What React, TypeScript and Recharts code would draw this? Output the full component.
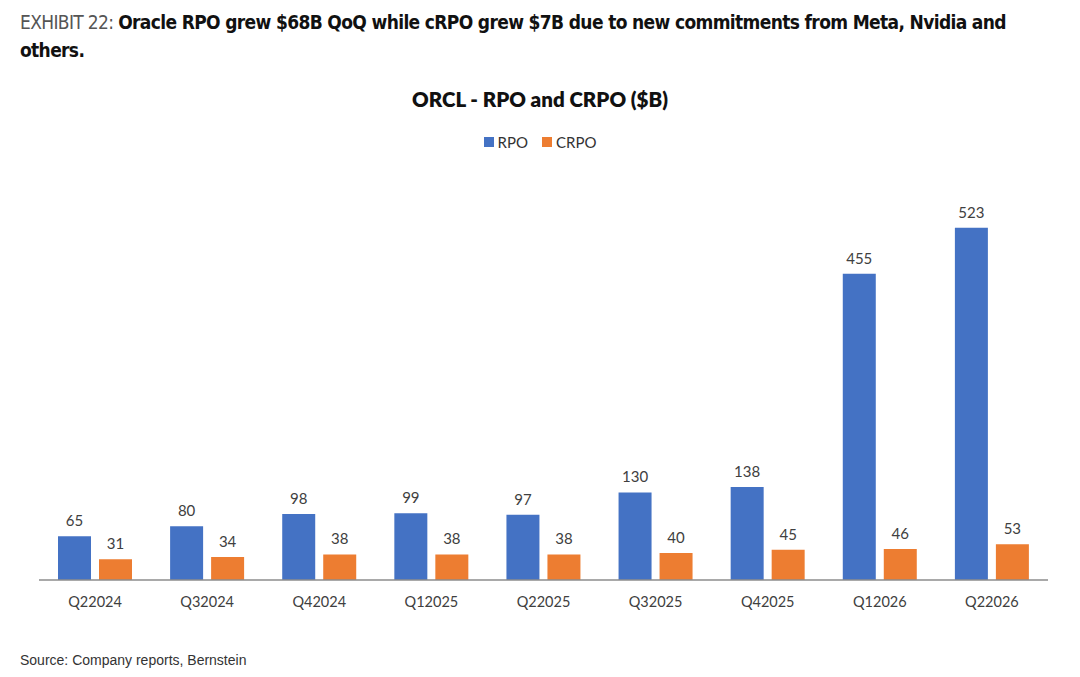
import { BarChart, Bar, XAxis, YAxis, LabelList } from "recharts"

const quarters = ["Q22024", "Q32024", "Q42024", "Q12025", "Q22025", "Q32025", "Q42025", "Q12026", "Q22026"];
const rpo = [65, 80, 98, 99, 97, 130, 138, 455, 523];
const crpo = [31, 34, 38, 38, 38, 40, 45, 46, 53];

const series = [
  { key: "RPO", color: "#4472C4" },
  { key: "CRPO", color: "#ED7D31" },
];

const data = quarters.map((q, i) => ({ quarter: q, RPO: rpo[i], CRPO: crpo[i] }));

const chartFont = "Lato, 'Open Sans', sans-serif";

const App = () => {
  return (
    <div style={{ position: "absolute", left: 0, top: 0, width: 1080, height: 677, background: "#fff", overflow: "hidden" }}>
      <div style={{ position: "absolute", left: 20, top: 8, width: 1050, fontFamily: "'DejaVu Sans Condensed', 'Liberation Sans Narrow', sans-serif", fontSize: 19, lineHeight: "28px", color: "#111", letterSpacing: -0.65 }}>
        <span style={{ color: "#555", fontWeight: 300 }}>EXHIBIT 22:</span>{" "}
        <b>Oracle RPO grew $68B QoQ while cRPO grew $7B due to new commitments from Meta, Nvidia and<br />others.</b>
      </div>
      <div style={{ position: "absolute", left: 0, top: 87, width: 1080, textAlign: "center", fontFamily: chartFont, fontWeight: 800, fontSize: 20.5, color: "#111" }}>
        ORCL - RPO and CRPO ($B)
      </div>
      <div style={{ position: "absolute", left: 0, top: 133, width: 1080, display: "flex", justifyContent: "center", gap: 14, fontFamily: chartFont, fontSize: 15, color: "#333" }}>
        {series.map((s) => (
          <span key={s.key} style={{ display: "flex", alignItems: "center", gap: 4 }}>
            <span style={{ width: 10, height: 10, background: s.color, display: "inline-block" }} />
            {s.key}
          </span>
        ))}
      </div>
      <div style={{ position: "absolute", left: 0, top: 0 }}>
        <BarChart
          width={1080}
          height={677}
          data={data}
          barSize={33}
          barGap={8}
          margin={{ top: 176, right: 32, bottom: 67, left: 39 }}
        >
          <XAxis
            dataKey="quarter"
            height={30}
            tickLine={false}
            axisLine={{ stroke: "#8c8c8c", strokeWidth: 1.5 }}
            tickMargin={11}
            tick={{ fill: "#404040", fontSize: 14.5, fontFamily: chartFont }}
            interval={0}
          />
          <YAxis hide domain={[0, 600]} />
          {series.map((s) => (
            <Bar key={s.key} dataKey={s.key} fill={s.color} isAnimationActive={false}>
              <LabelList dataKey={s.key} position="top" offset={10} fill="#404040" fontSize={15} fontFamily={chartFont} />
            </Bar>
          ))}
        </BarChart>
      </div>
      <div style={{ position: "absolute", left: 20, top: 652, fontFamily: "'Liberation Sans', Arial, sans-serif", fontSize: 14, color: "#333" }}>
        Source: Company reports, Bernstein
      </div>
    </div>
  )
}

export default App;
